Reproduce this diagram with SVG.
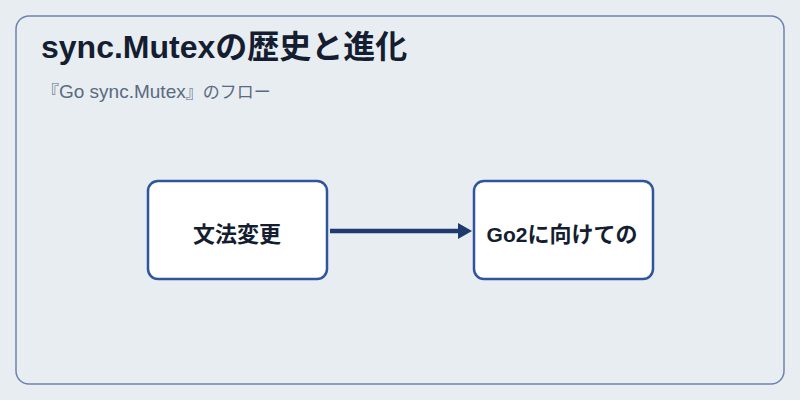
<svg xmlns="http://www.w3.org/2000/svg" width="800" height="400" viewBox="0 0 800 400">
<defs>
<style>
.t{font-family:"Liberation Sans","Noto Sans CJK JP",sans-serif;}
.j{font-family:"Noto Sans CJK JP",sans-serif;}
.node{fill:#ffffff;stroke:#2f569c;stroke-width:2.5;}
.lbl{font-weight:bold;fill:#141e30;text-anchor:middle;}
</style>
<marker id="ah" markerWidth="14" markerHeight="16" refX="0" refY="8" orient="auto" markerUnits="userSpaceOnUse">
<path d="M0,0 L14,8 L0,16 Z" fill="#1f3a6e"/>
</marker>
</defs>
<rect width="800" height="400" fill="#e8edf2"/>
<rect x="16" y="16" width="768" height="368" rx="13" fill="#e8edf2" stroke="#6b84ad" stroke-width="1.5"/>
<text class="t" x="41" y="58" font-size="32" font-weight="bold" fill="#141e30">sync.Mutexの歴史と進化</text>
<text class="t" x="42" y="98" font-size="19" fill="#5a6a80"><tspan class="j" font-size="17">『</tspan>Go sync.Mutex<tspan class="j" font-size="17">』のフロー</tspan></text>
<g id="connectors">
<line x1="330" y1="231" x2="458" y2="231" stroke="#1f3a6e" stroke-width="4.5" marker-end="url(#ah)"/>
</g>
<g id="n1">
<rect class="node" x="148" y="181" width="179" height="98" rx="10"/>
<text class="j lbl" x="237" y="242" font-size="22">文法変更</text>
</g>
<g id="n2">
<rect class="node" x="474" y="181" width="179" height="98" rx="10"/>
<text class="t lbl" x="562" y="242" font-size="21">Go2<tspan class="j" font-size="22">に向けての</tspan></text>
</g>
</svg>
